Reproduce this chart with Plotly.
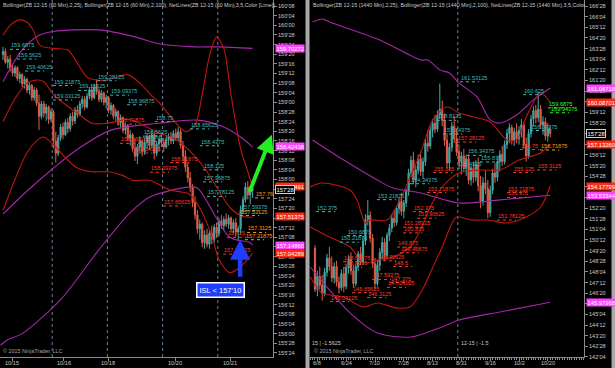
import plotly.graph_objects as go

# ---------------- LEFT PANEL : ZB 12-15 (60 Min) ----------------
L_open = [159.62,159.66,159.52,159.56,159.44,159.38,159.45,159.31,159.36,159.24,159.30,159.16,159.22,159.06,159.16,158.99,158.82,158.98,158.86,158.94,158.78,
          158.88,158.50,158.34,158.54,158.68,158.58,158.74,158.66,158.82,158.76,158.90,158.84,158.98,159.04,158.94,159.08,159.16,159.06,159.20,159.14,159.04,159.12,159.00,
          159.06,158.90,158.96,158.82,158.88,158.74,158.80,158.64,158.70,158.54,158.58,158.40,158.30,158.42,158.50,158.36,158.48,158.56,158.44,158.58,158.34,158.46,158.52,
          158.48,158.42,158.52,158.56,158.50,158.60,158.54,158.62,158.44,158.30,158.16,158.02,157.90,157.70,157.54,157.36,157.42,157.18,157.28,157.16,157.30,157.22,157.38,
          157.30,157.46,157.40,157.48,157.42,157.50,157.36,157.44,157.32,157.36,157.60,157.74,157.90,157.80,157.86]
L_high = [159.72,159.70,159.60,159.62,159.50,159.48,159.47,159.40,159.38,159.34,159.32,159.26,159.24,159.20,159.19,159.10,159.02,159.02,158.98,158.96,158.92,
          158.90,158.62,158.58,158.72,158.74,158.78,158.80,158.86,158.88,158.94,158.96,159.02,159.08,159.08,159.12,159.20,159.22,159.24,159.30,159.18,159.16,159.14,159.10,
          159.08,159.00,158.98,158.92,158.90,158.84,158.82,158.74,158.72,158.64,158.60,158.52,158.46,158.56,158.52,158.54,158.60,158.58,158.62,158.62,158.50,158.56,158.60,
          158.54,158.58,158.60,158.62,158.64,158.66,158.68,158.66,158.50,158.38,158.22,158.10,157.94,157.78,157.60,157.48,157.44,157.34,157.36,157.34,157.40,157.42,157.44,
          157.50,157.54,157.52,157.56,157.54,157.52,157.48,157.50,157.40,157.66,157.78,157.96,157.98,157.92,157.94]
L_low = [159.55,159.50,159.44,159.40,159.34,159.33,159.28,159.25,159.20,159.18,159.12,159.10,159.02,159.02,158.95,158.64,158.78,158.80,158.76,158.72,158.74,
         158.40,158.22,158.30,158.50,158.52,158.56,158.60,158.62,158.70,158.72,158.80,158.82,158.92,158.90,158.92,159.04,159.02,159.04,159.10,159.00,159.00,158.96,158.92,
         158.86,158.84,158.78,158.76,158.70,158.68,158.60,158.58,158.50,158.44,158.36,158.24,158.20,158.36,158.30,158.32,158.40,158.38,158.40,158.26,158.30,158.36,158.42,
         158.36,158.40,158.44,158.46,158.46,158.50,158.50,158.40,158.24,158.10,157.96,157.84,157.64,157.48,157.30,157.22,157.12,157.10,157.12,157.10,157.16,157.18,157.24,
         157.26,157.36,157.34,157.38,157.36,157.32,157.30,157.26,157.20,157.30,157.56,157.70,157.74,157.68,157.76]
L_close = [159.66,159.52,159.56,159.44,159.38,159.45,159.31,159.36,159.24,159.30,159.16,159.22,159.06,159.16,158.99,158.82,158.98,158.86,158.94,158.78,158.88,
           158.50,158.34,158.54,158.68,158.58,158.74,158.66,158.82,158.76,158.90,158.84,158.98,159.04,158.94,159.08,159.16,159.06,159.20,159.14,159.04,159.12,159.00,159.06,
           158.90,158.96,158.82,158.88,158.74,158.80,158.64,158.70,158.54,158.58,158.40,158.30,158.42,158.50,158.36,158.48,158.56,158.44,158.58,158.34,158.46,158.52,158.48,
           158.42,158.52,158.56,158.50,158.60,158.54,158.62,158.44,158.30,158.16,158.02,157.90,157.70,157.54,157.36,157.42,157.18,157.28,157.16,157.30,157.22,157.38,157.30,
           157.46,157.40,157.48,157.42,157.50,157.36,157.44,157.32,157.36,157.60,157.74,157.90,157.80,157.86,157.875]

# Bollinger bands (bar index, price)
L_bb25_up_x = [0,3,7,10,12.5,15.4,21,27,31,35,39,43,47.5,52,57,62.5,65,70,76,80,83,86,89,92,95,99,102,104]
L_bb25_up_y = [159.87,160.0,160.07,160.04,159.94,159.74,159.70,159.68,159.51,159.33,159.29,159.29,159.33,159.36,159.25,159.07,159.0,158.81,158.62,158.70,159.1,159.6,159.85,159.7,159.1,158.4,158.1,157.905]
L_bb25_mid_x = [0,5,10,14,17,21,27,31,37,44,52,57,65,70,75,80,85,90,95,100,104]
L_bb25_mid_y = [158.75,159.05,159.25,159.29,159.27,159.10,158.95,158.86,158.73,158.73,158.78,158.73,158.60,158.55,158.45,158.30,158.10,157.85,157.62,157.52,157.51]
L_bb25_lo_x = [0,5,10,14,17,21,27,31,37,44,50,54,61,70,77,79,83,87.5,90,94.5,99,104]
L_bb25_lo_y = [157.6,158.0,158.35,158.5,158.55,158.45,158.25,158.15,158.1,158.1,158.05,157.99,157.99,157.86,157.82,157.77,157.57,157.22,156.96,156.79,156.87,157.04]
L_bb100_up_x = [0,8,15,21,40,55,65,80,90,104]
L_bb100_up_y = [159.27,159.68,159.87,159.92,159.94,159.85,159.76,159.72,159.72,159.70]
L_bb100_mid_x = [0,10,20,30,45,65,81,92,99,104]
L_bb100_mid_y = [157.55,157.85,158.12,158.37,158.64,158.73,158.77,158.68,158.55,158.42]
L_bb100_lo_x = [-1,2,8,24,40,53,61,77,81,94.5,103,104]
L_bb100_lo_y = [155.85,155.92,156.0,156.44,157.09,157.57,157.77,157.90,157.89,157.25,157.18,157.15]

L_session_breaks = [20.5, 43.5, 66.5, 89.5]
L_xtick_vals = [3.75, 25.4, 43.75, 71.7, 94.6]
L_xtick_text = ["10/15", "10/16", "10/18", "10/20", "10/21"]

L_net_text = ["159.6875","159.5625","159.40625","159.21875","159.03125","159.28125","159.15625","159.09375","158.96875","158.75","158.5625","158.5",
              "158.65625","158.4375","158.125","157.96875","157.78125","157.59375",
              "158.71875","158.46875","158.34375","158.21875","158.09375","157.65625","157.25","157.03125",
              "157.53125","157.3125","157.21875","157.76"]
L_net_val = [159.6875,159.5625,159.40625,159.21875,159.03125,159.28125,159.15625,159.09375,158.96875,158.75,158.5625,158.5,
             158.65625,158.4375,158.125,157.96875,157.78125,157.59375,
             158.71875,158.46875,158.34375,158.21875,158.09375,157.65625,157.25,157.03125,
             157.53125,157.3125,157.21875,157.76]
L_net_x = [2.9,5.8,9.2,20.8,20.8,39.2,31.25,44.6,51.7,63.3,58.3,60,
           77.9,82,83.3,83.3,85,98.75,
           47.5,48.75,54.2,69.6,61.25,66.7,93.3,91.7,
           98.75,101.7,100.8,105]
L_net_kind = ["c"]*18 + ["r"]*8 + ["o"]*4

L_tag_val = [159.70272, 158.42438, 157.90491, 157.51375, 157.14860, 157.04289]
L_tag_text = ["159.70272", "158.42438", "157.90491", "157.51375", "157.14860", "157.04289"]
L_tag_kind = ["m", "m", "r", "r", "m", "r"]
L_last = 157.875

# ---------------- RIGHT PANEL : ZB 12-15 (1440 Min) ----------------
R_open = [149.80,146.90,147.80,147.20,146.60,148.10,149.10,148.50,147.70,148.50,147.40,147.00,148.00,147.10,148.40,149.00,148.20,147.30,148.50,149.40,
          148.80,150.30,151.80,152.10,150.50,148.70,147.30,148.60,149.50,150.20,149.30,150.70,151.20,151.90,151.60,152.60,153.10,152.40,153.00,153.80,
          155.10,156.00,154.60,155.30,156.10,155.20,155.90,157.20,157.00,158.10,158.60,158.20,159.20,159.60,158.80,157.40,155.80,156.90,158.40,157.50,
          156.60,155.90,156.30,155.50,156.10,154.60,155.40,154.80,155.70,154.20,153.10,154.40,154.00,152.30,153.90,155.10,154.80,155.90,156.40,155.90,
          157.10,157.90,158.30,157.40,158.00,157.50,158.10,158.50,157.10,156.30,157.90,158.90,159.50,159.00,159.60,158.50,158.70,157.70,158.20]
R_high = [150.00,148.20,148.50,147.90,148.40,149.40,149.90,149.20,148.80,148.90,147.80,148.30,148.40,148.60,149.30,149.50,148.60,148.70,149.60,149.90,
          150.60,152.20,153.20,152.40,150.80,149.10,148.90,149.80,150.60,150.50,150.90,151.50,152.20,152.50,152.80,153.40,153.70,153.20,154.00,155.40,
          156.30,156.60,155.60,156.40,156.60,156.20,157.50,158.10,158.40,158.90,159.20,159.50,161.40,160.20,159.30,157.90,157.20,158.70,159.10,158.20,
          157.10,156.60,156.80,156.40,156.40,155.60,155.90,156.00,156.20,154.90,154.80,155.30,154.60,154.20,155.40,155.80,156.20,156.70,157.00,157.40,
          158.20,158.60,158.50,158.30,158.60,158.40,158.90,158.70,157.60,158.20,159.20,159.80,159.90,160.80,159.90,159.10,159.00,158.60,158.40]
R_low = [146.70,146.40,146.90,146.10,146.40,147.80,148.20,147.40,147.30,147.10,146.60,146.80,146.70,146.90,148.00,147.90,147.00,147.10,148.20,148.60,
         148.60,150.00,151.40,150.20,148.40,146.90,147.10,148.20,149.00,148.90,149.00,150.30,150.90,151.30,151.40,152.20,152.10,151.90,152.70,153.50,
         154.80,154.30,154.10,155.00,154.90,154.70,155.60,156.60,156.80,157.60,157.90,158.00,158.90,158.40,157.00,155.40,155.30,156.60,157.20,156.30,
         155.50,155.00,155.20,154.90,154.30,154.20,154.40,154.50,153.80,152.60,152.80,153.60,151.90,152.00,153.60,154.40,154.50,155.20,155.60,155.70,
         156.80,157.20,157.10,157.00,157.20,157.10,157.60,156.80,155.90,156.10,157.60,158.40,158.60,158.70,158.20,157.80,157.40,157.30,157.60]
R_close = [146.90,147.80,147.20,146.60,148.10,149.10,148.50,147.70,148.50,147.40,147.00,148.00,147.10,148.40,149.00,148.20,147.30,148.50,149.40,148.80,
           150.30,151.80,152.10,150.50,148.70,147.30,148.60,149.50,150.20,149.30,150.70,151.20,151.90,151.60,152.60,153.10,152.40,153.00,153.80,155.10,
           156.00,154.60,155.30,156.10,155.20,155.90,157.20,157.00,158.10,158.60,158.20,159.20,159.60,158.80,157.40,155.80,156.90,158.40,157.50,156.60,
           155.90,156.30,155.50,156.10,154.60,155.40,154.80,155.70,154.20,153.10,154.40,154.00,152.30,153.90,155.10,154.80,155.90,156.40,155.90,157.10,
           157.90,158.30,157.40,158.00,157.50,158.10,158.50,157.10,156.30,157.90,158.90,159.50,159.00,159.60,158.50,158.70,157.70,158.20,157.875]

R_bb25_up_x = [-2,3,14.6,17.5,21,23,30,35.4,39.6,44,49,55,60,66,73,80,84,88,94,98]
R_bb25_up_y = [154.11,154.39,153.9,153.19,151.57,151.78,151.78,153.19,154.82,156.51,158.84,159.75,159.33,159.05,158.7,157.43,157.43,159.05,160.74,160.09]
R_bb25_mid_x = [-2,6,14.6,20,26,32.5,39.6,44,48,53,60,69,77,85,94,98]
R_bb25_mid_y = [151.29,150.58,149.88,148.75,148.96,149.17,149.88,151.08,152.7,154.11,155.1,155.31,155.31,156.01,156.51,157.13]
R_bb25_lo_x = [-2,3,12,20,26,34,39.6,44,48,53,59,65,72,80,88,94,98]
R_bb25_lo_y = [147.77,146.63,146.35,145.65,145.93,145.58,145.65,146.63,148.04,149.88,151.99,151.78,151.78,151.57,151.99,152.7,154.18]
R_bb100_up_x = [-1,3,6,27,44,47,52,56,60,67.5,73,77,84,91,98]
R_bb100_up_y = [165.75,165.96,165.75,164.48,163.07,163.07,162.37,162.15,161.44,160.46,158.84,158.62,159.19,160.25,161.09]
R_bb100_mid_x = [-1,12,26,32.5,44,60,77,98]
R_bb100_mid_y = [157.43,156.01,154.60,154.04,153.69,152.98,153.2,153.53]
R_bb100_lo_x = [-2,6,14.6,26,40,53,60,77,98]
R_bb100_lo_y = [148.47,146.85,145.23,143.81,143.53,144.24,144.73,145.3,145.98]

R_session_breaks = [59.5]
R_xtick_vals = [1, 13, 25, 37, 49, 61, 73, 85, 97]
R_xtick_text = ["6/8", "6/24", "7/10", "7/28", "8/13", "8/31", "9/16", "10/2", "10/20"]

R_net_text = ["152.375","150.6875","150.21875","153.21875","154.34375","157.84375","158.8125","161.53125","160.625","156.34375","155.875","155.4375","158.09375",
              "157.28125","155.125","153.71875","152.375","151.90625","151.28125","150.875","149.875","149.46875","148.90625","148.84375","148.5","148.4375",
              "147.59375","147.375","147.03125","146.65625","146.3125","146.03125","155.125","155.3125","153.71875","153.375","151.78125","156.75",
              "156.71875","159.6875","159.34375"]
R_net_val = [152.375,150.6875,150.21875,153.21875,154.34375,157.84375,158.8125,161.53125,160.625,156.34375,155.875,155.4375,158.09375,
             157.28125,155.125,153.71875,152.375,151.90625,151.28125,150.875,149.875,149.46875,148.90625,148.84375,148.5,148.4375,
             147.59375,147.375,147.03125,146.65625,146.3125,146.03125,155.125,155.3125,153.71875,153.375,151.78125,156.75,
             156.71875,159.6875,159.34375]
R_net_x = [0.4,13.3,10.4,25.8,39.6,53.3,50.8,60.4,86.7,63.3,68.75,59.2,89.6,
           59.2,49.2,46.7,40.8,42.5,36.7,36.7,34.2,35.4,25.8,11.7,32.5,11.7,
           23.75,31.25,30,15.4,21.7,6.25,82.5,92.5,80,80,75.8,85.4,
           93.75,97.1,97.9]
R_net_kind = ["c"]*13 + ["r"]*25 + ["o"] + ["g"]*2

R_tag_val = [161.08718, 160.08701, 157.13260, 154.17799, 153.53344, 145.97968]
R_tag_text = ["161.08718", "160.08701", "157.13260", "154.17799", "153.53344", "145.97968"]
R_tag_kind = ["m", "r", "r", "r", "m", "m"]
R_last = 157.875

# ---------------- STYLE / LAYOUT ----------------
W, H = 615, 368
FONT = "Liberation Sans, Arial, sans-serif"
UP_FILL, UP_LINE = "#2f9c9c", "#4aa8a8"
DN_FILL, DN_LINE = "#d8503c", "#e0604a"
RED_BAND, MAG_BAND = "#c0160e", "#a826a8"
NET_COL = {"c": "#3cb8b8", "r": "#ff3a28", "o": "#ff9a1a", "g": "#33ff22"}
TAG_COL = {"m": "#ff44ff", "r": "#ff2a14"}
AXIS_COL = "#8c8c8c"
TXT_COL = "#c8c8c8"
Y_BOTTOM = 11 / H
L_DOM = [0, 273 / W]
R_DOM = [310 / W, 584 / W]
L_XRANGE = [-1.25, 112.5]
R_XRANGE = [-2.08, 112.08]

def fmt32(v):
    w = int(v + 1e-9)
    return f"{w}'{int(round((v - w) * 32)):02d}"

def ticks(lo, hi, step):
    out, v = [], lo
    while v <= hi + 1e-9:
        out.append(round(v, 5))
        v += step
    return out

def to_paper(v, dom, rng):
    return dom[0] + (v - rng[0]) / (rng[1] - rng[0]) * (dom[1] - dom[0])

L_ytick_vals = ticks(155.75, 160.25, 0.125)
R_ytick_vals = ticks(142.125, 166.875, 0.75)

fig = go.Figure()

def add_panel(xa, ya, o, h, l, c, bands, breaks):
    n = len(o)
    for b in breaks:
        fig.add_shape(type="line", xref=xa, yref="paper", x0=b, x1=b, y0=Y_BOTTOM, y1=1,
                      line=dict(color="#6f8096", width=1, dash="dot"), layer="below")
    for bx, by, col in bands:
        fig.add_trace(go.Scatter(x=bx, y=by, mode="lines", xaxis=xa, yaxis=ya,
                                 line=dict(color=col, width=1.1, shape="spline", smoothing=0.8),
                                 hoverinfo="skip", showlegend=False))
    fig.add_trace(go.Candlestick(x=list(range(n)), open=o, high=h, low=l, close=c, xaxis=xa, yaxis=ya,
                                 increasing=dict(line=dict(color=UP_LINE, width=1), fillcolor=UP_FILL),
                                 decreasing=dict(line=dict(color=DN_LINE, width=1), fillcolor=DN_FILL),
                                 whiskerwidth=0, showlegend=False, hoverinfo="skip"))

add_panel("x", "y", L_open, L_high, L_low, L_close,
          [(L_bb100_up_x, L_bb100_up_y, MAG_BAND), (L_bb100_mid_x, L_bb100_mid_y, MAG_BAND), (L_bb100_lo_x, L_bb100_lo_y, MAG_BAND),
           (L_bb25_up_x, L_bb25_up_y, RED_BAND), (L_bb25_mid_x, L_bb25_mid_y, RED_BAND), (L_bb25_lo_x, L_bb25_lo_y, RED_BAND)],
          L_session_breaks)
add_panel("x2", "y2", R_open, R_high, R_low, R_close,
          [(R_bb100_up_x, R_bb100_up_y, MAG_BAND), (R_bb100_mid_x, R_bb100_mid_y, MAG_BAND), (R_bb100_lo_x, R_bb100_lo_y, MAG_BAND),
           (R_bb25_up_x, R_bb25_up_y, RED_BAND), (R_bb25_mid_x, R_bb25_mid_y, RED_BAND), (R_bb25_lo_x, R_bb25_lo_y, RED_BAND)],
          R_session_breaks)

ann = []

def add_ylabels(xpix, ya, vals):
    for v in vals:
        ann.append(dict(x=xpix / W, y=v, xref="paper", yref=ya, text=fmt32(v), showarrow=False,
                        xanchor="left", yanchor="middle", borderpad=0,
                        font=dict(size=5.6, color=TXT_COL, family=FONT)))

add_ylabels(276.5, "y", L_ytick_vals)
add_ylabels(587.5, "y2", R_ytick_vals)

def add_xlabels(vals, texts, dom, rng):
    for v, t in zip(vals, texts):
        ann.append(dict(x=to_paper(v, dom, rng), y=(H - 363) / H, xref="paper", yref="paper", text=t,
                        showarrow=False, xanchor="center", yanchor="middle", borderpad=0,
                        font=dict(size=5.6, color=TXT_COL, family=FONT)))

add_xlabels(L_xtick_vals, L_xtick_text, L_DOM, L_XRANGE)
add_xlabels(R_xtick_vals, R_xtick_text, R_DOM, R_XRANGE)

def add_net(xa, ya, texts, vals, xs, kinds):
    for t, v, x, k in zip(texts, vals, xs, kinds):
        col = NET_COL[k]
        ann.append(dict(x=x, y=v, xref=xa, yref=ya, text=t, showarrow=False, xanchor="left", yanchor="bottom",
                        font=dict(size=5.6, color=col, family=FONT), borderpad=0))
        fig.add_shape(type="line", xref=xa, yref=ya, x0=x, x1=x + 8, y0=v, y1=v,
                      line=dict(color=col, width=1, dash="dot"))

add_net("x", "y", L_net_text, L_net_val, L_net_x, L_net_kind)
add_net("x2", "y2", R_net_text, R_net_val, R_net_x, R_net_kind)

def add_tags(xpix, ya, vals, texts, kinds, last):
    for v, t, k in zip(vals, texts, kinds):
        ann.append(dict(x=xpix / W, y=v, xref="paper", yref=ya, text=t, showarrow=False, xanchor="left", yanchor="middle",
                        font=dict(size=5.8, color="#ffffff", family=FONT), bgcolor=TAG_COL[k], borderpad=0.5))
    ann.append(dict(x=xpix / W, y=last, xref="paper", yref=ya, text=fmt32(last), showarrow=False, xanchor="left",
                    yanchor="middle", font=dict(size=5.8, color="#ffffff", family=FONT), bgcolor="#000000",
                    bordercolor="#d0d0d0", borderwidth=1, borderpad=0.5))

add_tags(275, "y", L_tag_val, L_tag_text, L_tag_kind, L_last)
add_tags(586, "y2", R_tag_val, R_tag_text, R_tag_kind, R_last)

ann += [
    dict(x=1 / W, y=1, xref="paper", yref="paper", xanchor="left", yanchor="top", showarrow=False,
         text="Bollinger(ZB 12-15 (60 Min),2,25), Bollinger(ZB 12-15 (60 Min),2,100), NetLines(ZB 12-15 (60 Min),3,5,Color [Lime])",
         font=dict(size=5.3, color=TXT_COL, family=FONT)),
    dict(x=311 / W, y=1, xref="paper", yref="paper", xanchor="left", yanchor="top", showarrow=False,
         text="Bollinger(ZB 12-15 (1440 Min),2,25), Bollinger(ZB 12-15 (1440 Min),2,100), NetLines(ZB 12-15 (1440 Min),3,5,Color",
         font=dict(size=5.3, color=TXT_COL, family=FONT)),
    dict(x=1 / W, y=12 / H, xref="paper", yref="paper", xanchor="left", yanchor="bottom", showarrow=False,
         text="© 2015 NinjaTrader, LLC", font=dict(size=5.4, color="#a0a0a0", family=FONT)),
    dict(x=312 / W, y=12 / H, xref="paper", yref="paper", xanchor="left", yanchor="bottom", showarrow=False,
         text="© 2015 NinjaTrader, LLC", font=dict(size=5.4, color="#a0a0a0", family=FONT)),
    dict(x=310 / W, y=20 / H, xref="paper", yref="paper", xanchor="left", yanchor="bottom", showarrow=False,
         text="15 | -1.5625", font=dict(size=5.4, color=TXT_COL, family=FONT)),
    dict(x=459 / W, y=20 / H, xref="paper", yref="paper", xanchor="left", yanchor="bottom", showarrow=False,
         text="12-15 | -1.5", font=dict(size=5.4, color=TXT_COL, family=FONT)),
]

ann += [
    dict(x=112.0, y=158.58, xref="x", yref="y", ax=102.5, ay=157.82, axref="x", ayref="y", text="", showarrow=True,
         arrowhead=2, arrowsize=0.9, arrowwidth=4, arrowcolor="#22ee22"),
    dict(x=98.8, y=157.22, xref="x", yref="y", ax=98.8, ay=156.72, axref="x", ayref="y", text="", showarrow=True,
         arrowhead=2, arrowsize=0.9, arrowwidth=4.5, arrowcolor="#1f3dff"),
    dict(x=90.5, y=156.56, xref="x", yref="y", text="ISL < 157'10", showarrow=False, xanchor="center", yanchor="middle",
         font=dict(size=7.5, color="#ffffff", family=FONT), bgcolor="#1f3dff", bordercolor="#ffffff", borderwidth=1.5, borderpad=2),
]

axis_common = dict(showgrid=False, zeroline=False, showline=True, linecolor=AXIS_COL, linewidth=1,
                   ticks="outside", tickcolor=AXIS_COL, ticklen=3, automargin=False,
                   showticklabels=False, rangeslider=dict(visible=False))
yaxis_common = dict(showgrid=False, zeroline=False, showline=True, linecolor=AXIS_COL, linewidth=1,
                    ticks="outside", tickcolor=AXIS_COL, ticklen=3, automargin=False, side="right",
                    showticklabels=False)

fig.update_layout(
    template="none", width=W, height=H, margin=dict(l=0, r=0, t=0, b=0),
    paper_bgcolor="#000000", plot_bgcolor="#000000", showlegend=False,
    font=dict(family=FONT, size=6, color=TXT_COL),
    xaxis=dict(axis_common, domain=L_DOM, range=L_XRANGE, anchor="y", tickmode="array", tickvals=L_xtick_vals),
    yaxis=dict(yaxis_common, domain=[Y_BOTTOM, 1], range=[155.697, 160.328], anchor="x",
               tickmode="array", tickvals=L_ytick_vals),
    xaxis2=dict(axis_common, domain=R_DOM, range=R_XRANGE, anchor="y2", tickmode="array", tickvals=R_xtick_vals,
                minor=dict(tickmode="linear", tick0=0, dtick=1, ticklen=2, tickcolor=AXIS_COL, ticks="outside")),
    yaxis2=dict(yaxis_common, domain=[Y_BOTTOM, 1], range=[142.122, 167.298], anchor="x2",
                tickmode="array", tickvals=R_ytick_vals),
    annotations=ann,
)

fig.add_shape(type="rect", xref="paper", yref="paper", x0=305.5 / W, x1=309.5 / W, y0=0, y1=1,
              fillcolor="#a8a8a8", line=dict(width=0))
fig.add_shape(type="rect", xref="paper", yref="paper", x0=611.5 / W, x1=1, y0=0, y1=1,
              fillcolor="#a8a8a8", line=dict(width=0))

fig.write_html("out.html", config={"displayModeBar": False, "staticPlot": True},
               post_script="document.body.style.margin='0';document.body.style.padding='0';"
                           "document.body.style.overflow='hidden';document.body.style.background='#000';")
